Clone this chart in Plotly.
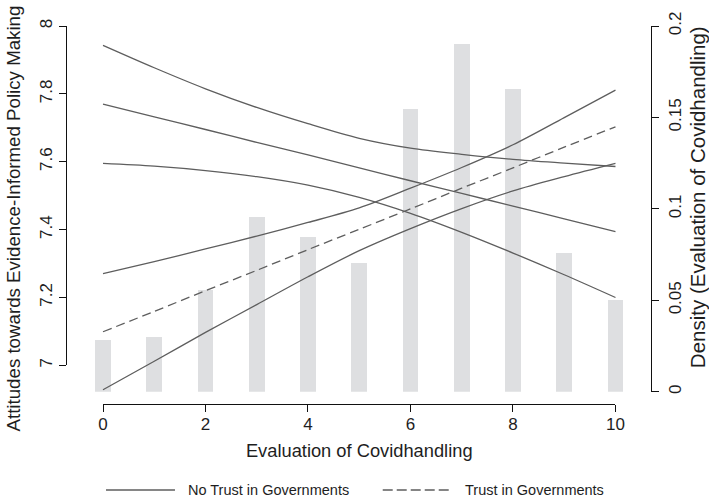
import plotly.graph_objects as go

# Evaluation of Covid handling (0-10 scale)
score = list(range(11))
score_ticks = [0, 2, 4, 6, 8, 10]

# Share of respondents at each evaluation score
density = [0.0285, 0.0298, 0.0557, 0.0956, 0.0848, 0.0703,
           0.1546, 0.1903, 0.1654, 0.0761, 0.0501]
density_ticks = [0, 0.05, 0.1, 0.15, 0.2]

# Predicted attitudes with 95% confidence bounds, no trust in governments
no_trust_fit = [7.770, 7.732, 7.695, 7.657, 7.620, 7.582, 7.544, 7.507, 7.469, 7.432, 7.394]
no_trust_hi = [7.943, 7.877, 7.815, 7.760, 7.712, 7.669, 7.640, 7.622, 7.607, 7.596, 7.586]
no_trust_lo = [7.595, 7.587, 7.574, 7.556, 7.531, 7.495, 7.448, 7.392, 7.331, 7.267, 7.200]

# Predicted attitudes with 95% confidence bounds, trust in governments
trust_fit = [7.099, 7.159, 7.220, 7.280, 7.341, 7.401, 7.461, 7.522, 7.582, 7.643, 7.703]
trust_hi = [7.270, 7.306, 7.343, 7.381, 7.421, 7.464, 7.522, 7.583, 7.650, 7.730, 7.811]
trust_lo = [6.928, 7.012, 7.097, 7.179, 7.261, 7.338, 7.403, 7.462, 7.514, 7.556, 7.595]

attitude_ticks = [7, 7.2, 7.4, 7.6, 7.8, 8]

legend_labels = ["No Trust in Governments", "Trust in Governments"]
y_title = "Attitudes towards Evidence-Informed Policy Making"
y2_title = "Density (Evaluation of Covidhandling)"
x_title = "Evaluation of Covidhandling"

FONT = "Liberation Sans, Arial, Helvetica, sans-serif"
LINE = "#5e5e5e"
AXIS = "#111111"
TEXT = "#1e1e1e"

# full data ranges of the plotting region
X_RANGE = [-0.722, 10.693]
ATT_RANGE = [6.922, 8]
Y_DOMAIN = [0.0322, 1]

# the drawn x axis covers 0-10 only, the drawn left axis covers 7-8 only
x_span = X_RANGE[1] - X_RANGE[0]
x_axis_domain = [(score_ticks[0] - X_RANGE[0]) / x_span, (score_ticks[-1] - X_RANGE[0]) / x_span]
att_frac = (attitude_ticks[0] - ATT_RANGE[0]) / (ATT_RANGE[1] - ATT_RANGE[0])
att_axis_domain = [Y_DOMAIN[0] + att_frac * (Y_DOMAIN[1] - Y_DOMAIN[0]), Y_DOMAIN[1]]

fig = go.Figure()

# density bars on the right-hand axis (base layer)
fig.add_trace(go.Bar(
    x=score, y=density, width=0.31,
    marker=dict(color="#dedfe1", line=dict(width=0)),
    xaxis="x", yaxis="y", showlegend=False, hoverinfo="skip",
))

# prediction lines on the left-hand scale (drawn above the bars)
solid = dict(color=LINE, width=1.3)
dashed = dict(color=LINE, width=1.3, dash="9px,5px")
for series, style in [(no_trust_hi, solid), (no_trust_fit, solid), (no_trust_lo, solid),
                      (trust_hi, solid), (trust_fit, dashed), (trust_lo, solid)]:
    fig.add_trace(go.Scatter(
        x=score, y=series, mode="lines", line=dict(shape="spline", smoothing=0.9, **style),
        xaxis="x", yaxis="y2", showlegend=False, hoverinfo="skip",
    ))

# empty traces so the visible x and left axes get their own subplots
fig.add_trace(go.Scatter(x=[], y=[], xaxis="x2", yaxis="y", showlegend=False, hoverinfo="skip"))
fig.add_trace(go.Scatter(x=[], y=[], xaxis="x", yaxis="y3", showlegend=False, hoverinfo="skip"))

tick_font = dict(family=FONT, size=17, color=TEXT)

fig.update_layout(
    width=709, height=504,
    margin=dict(l=66, r=58, t=22, b=100),
    paper_bgcolor="white", plot_bgcolor="rgba(0,0,0,0)",
    font=dict(family=FONT, color=TEXT),
    bargap=0,
    # plotting scale for all marks
    xaxis=dict(domain=[0, 1], range=X_RANGE, anchor="y", visible=False),
    # visible x axis from 0 to 10
    xaxis2=dict(
        domain=x_axis_domain, range=[score_ticks[0], score_ticks[-1]], anchor="free", position=0,
        showgrid=False, zeroline=False, showline=True, linecolor=AXIS, linewidth=1.2,
        tickvals=score_ticks, ticks="outside", ticklen=7, tickwidth=1.2, tickcolor=AXIS,
        tickfont=tick_font, ticklabelstandoff=-3,
        title=dict(text=x_title, font=dict(family=FONT, size=18.3, color=TEXT), standoff=11),
    ),
    # density axis on the right
    yaxis=dict(
        domain=Y_DOMAIN, range=[0, 0.2], side="right", anchor="x",
        showgrid=False, zeroline=False, showline=True, linecolor=AXIS, linewidth=1.2,
        tickvals=density_ticks, ticks="outside", ticklen=7, tickwidth=1.2, tickcolor=AXIS,
        tickangle=-90, tickfont=tick_font, ticklabelstandoff=1,
    ),
    # attitude scale used by the lines
    yaxis2=dict(overlaying="y", side="left", anchor="x", range=ATT_RANGE, visible=False),
    # visible left axis from 7 to 8
    yaxis3=dict(
        domain=att_axis_domain, range=[attitude_ticks[0], attitude_ticks[-1]],
        anchor="free", position=0, side="left",
        showgrid=False, zeroline=False, showline=True, linecolor=AXIS, linewidth=1.2,
        tickvals=attitude_ticks, ticks="outside", ticklen=7, tickwidth=1.2, tickcolor=AXIS,
        tickangle=-90, tickfont=tick_font,
    ),
)

# vertical axis titles
fig.add_annotation(xref="paper", yref="paper", x=-0.0906, y=0.4908, text=y_title, textangle=-90,
                   showarrow=False, xanchor="center", yanchor="middle",
                   font=dict(family=FONT, size=18.7, color=TEXT))
fig.add_annotation(xref="paper", yref="paper", x=1.0786, y=0.5471, text=y2_title, textangle=-90,
                   showarrow=False, xanchor="center", yanchor="middle",
                   font=dict(family=FONT, size=20.5, color=TEXT))

# legend row under the chart
legend_y = -0.2277
fig.add_shape(type="line", xref="paper", yref="paper", x0=0.0684, x1=0.1863, y0=legend_y, y1=legend_y,
              line=dict(color=LINE, width=1.5))
fig.add_shape(type="line", xref="paper", yref="paper", x0=0.5414, x1=0.6576, y0=legend_y, y1=legend_y,
              line=dict(color=LINE, width=1.5, dash="10px,4px"))
fig.add_annotation(xref="paper", yref="paper", x=0.2046, y=legend_y, text=legend_labels[0],
                   showarrow=False, xanchor="left", yanchor="middle",
                   font=dict(family=FONT, size=14.5, color=TEXT))
fig.add_annotation(xref="paper", yref="paper", x=0.6791, y=legend_y, text=legend_labels[1],
                   showarrow=False, xanchor="left", yanchor="middle",
                   font=dict(family=FONT, size=14.5, color=TEXT))

fig.write_html("out.html")
